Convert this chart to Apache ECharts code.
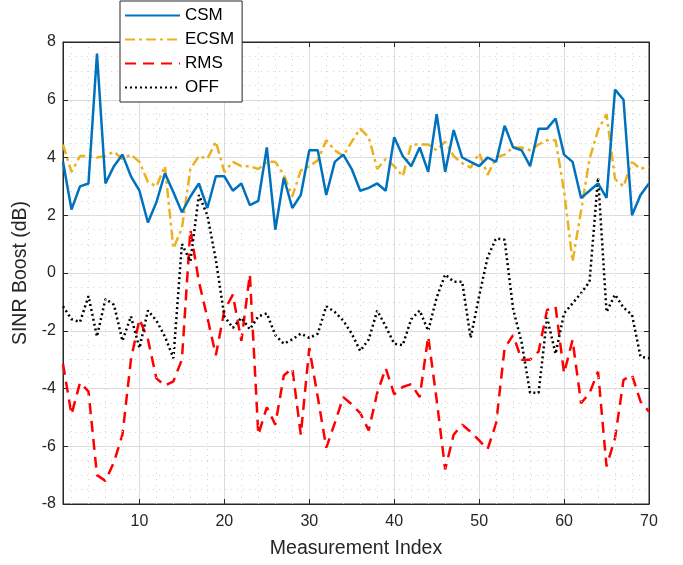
<!DOCTYPE html>
<html>
<head>
<meta charset="utf-8">
<script src="https://cdn.jsdelivr.net/npm/echarts@6/dist/echarts.min.js"></script>
<style>html,body{margin:0;padding:0;background:#fff;}#c{width:683px;height:565px;}</style>
</head>
<body>
<div id="c"></div>
<script>
var xIndex = [];
for (var i = 1; i <= 70; i++) xIndex.push(i);

var csm = [3.85,2.2,3.0,3.1,7.6,3.1,3.7,4.1,3.35,2.85,
  1.75,2.45,3.45,2.8,2.1,2.65,3.1,2.25,3.35,3.35,
  2.85,3.1,2.35,2.5,4.35,1.5,3.3,2.25,2.7,4.25,
  4.25,2.7,3.85,4.1,3.6,2.85,2.95,3.1,2.85,4.7,
  4.05,3.7,4.35,3.5,5.5,3.5,4.95,4.0,3.85,3.7,
  4.0,3.85,5.1,4.35,4.25,3.7,5.0,5.0,5.35,4.1,
  3.85,2.6,2.85,3.1,2.6,6.35,6.0,2.0,2.7,3.1];

var ecsm = [4.45,3.5,4.05,4.05,4.0,4.05,4.2,3.95,4.1,3.85,
  3.15,3.0,3.7,0.85,1.55,3.6,4.05,3.95,4.55,3.5,
  3.85,3.7,3.7,3.6,3.85,3.85,3.4,2.65,3.55,3.7,
  3.9,4.6,4.25,4.05,4.55,5.0,4.7,3.6,3.95,3.7,
  3.35,4.45,4.45,4.45,4.25,4.55,4.05,3.8,3.65,4.15,
  3.4,4.0,4.1,4.35,4.35,4.25,4.45,4.6,4.6,2.85,
  0.4,2.15,3.95,4.95,5.5,3.25,3.0,3.85,3.6,3.7];

var rms = [-3.15,-4.9,-3.8,-4.1,-7.0,-7.2,-6.55,-5.6,-3.0,-1.6,
  -2.3,-3.65,-3.9,-3.75,-3.0,1.5,-0.3,-1.55,-2.85,-1.3,
  -0.75,-2.35,-0.05,-5.6,-4.65,-5.25,-3.55,-3.3,-5.6,-2.6,
  -4.3,-6.05,-5.2,-4.3,-4.55,-4.85,-5.45,-4.15,-3.3,-4.2,
  -3.95,-3.85,-4.3,-2.2,-4.4,-6.8,-5.6,-5.25,-5.5,-5.8,
  -6.1,-5.2,-2.6,-2.15,-3.0,-3.0,-2.72,-1.28,-1.17,-3.47,
  -2.32,-4.51,-4.16,-3.41,-6.7,-5.72,-3.7,-3.53,-4.45,-4.8];

var off = [-1.15,-1.6,-1.7,-0.8,-2.2,-0.9,-1.1,-2.35,-1.5,-2.6,
  -1.3,-1.65,-2.2,-2.95,1.0,0.4,2.7,2.0,0.45,-1.5,
  -1.9,-1.55,-1.95,-1.5,-1.4,-2.15,-2.45,-2.3,-2.1,-2.25,
  -2.1,-1.15,-1.35,-1.65,-2.1,-2.7,-2.3,-1.3,-1.85,-2.45,
  -2.5,-1.6,-1.3,-2.0,-0.85,-0.05,-0.3,-0.3,-2.25,-0.8,
  0.55,1.2,1.15,-1.25,-2.4,-4.15,-4.15,-1.55,-2.8,-1.4,
  -1.05,-0.7,-0.3,3.3,-1.35,-0.75,-1.2,-1.45,-2.9,-2.95];

var xMinorGrid = [];
for (var m = 2; m < 70; m += 2) if (m % 10 !== 0) xMinorGrid.push(m);

function pairs(arr) { return arr.map(function (v, k) { return [xIndex[k], v]; }); }

var FONT = 'Liberation Sans, Arial, sans-serif';
var chart = echarts.init(document.getElementById('c'), null, {renderer: 'canvas'});
var axisColor = '#262626';
var minorStyle = {color: '#d4d4d4', width: 1, type: [1, 5]};
chart.setOption({
  animation: false,
  backgroundColor: '#ffffff',
  grid: {left: 63, right: 34, top: 42, bottom: 61, show: true, borderColor: axisColor, borderWidth: 1, backgroundColor: 'transparent'},
  legend: {
    left: 120, top: 1, orient: 'vertical',
    backgroundColor: '#ffffff', borderColor: axisColor, borderWidth: 1,
    padding: [6, 8, 6, 4], itemWidth: 55, itemHeight: 14, itemGap: 7,
    textStyle: {fontFamily: FONT, fontSize: 17, color: '#000'},
    itemStyle: {opacity: 0},
    z: 20,
    data: ['CSM', 'ECSM', 'RMS', 'OFF']
  },
  xAxis: [{
    type: 'value', min: 1, max: 70, splitNumber: 7,
    name: 'Measurement Index', nameLocation: 'middle', nameGap: 35,
    nameTextStyle: {fontFamily: FONT, fontSize: 19.5, color: axisColor},
    axisLine: {show: true, onZero: false, lineStyle: {color: axisColor}},
    axisTick: {show: true, inside: true, length: 5, lineStyle: {color: axisColor}},
    axisLabel: {showMinLabel: false, margin: 10, fontFamily: FONT, fontSize: 16, color: axisColor},
    splitLine: {show: true, lineStyle: {color: '#dcdcdc', width: 1}}
  }, {
    type: 'value', min: 1, max: 70, splitNumber: 7, position: 'top',
    axisLine: {show: true, onZero: false, lineStyle: {color: axisColor}},
    axisTick: {show: true, inside: true, length: 5, lineStyle: {color: axisColor}},
    axisLabel: {show: false}, splitLine: {show: false}
  }],
  yAxis: [{
    type: 'value', min: -8, max: 8, interval: 2,
    name: 'SINR Boost (dB)', nameLocation: 'middle', nameGap: 26,
    nameTextStyle: {fontFamily: FONT, fontSize: 19.5, color: axisColor},
    axisLine: {show: true, onZero: false, lineStyle: {color: axisColor}},
    axisTick: {show: true, inside: true, length: 5, lineStyle: {color: axisColor}},
    axisLabel: {margin: 7, fontFamily: FONT, fontSize: 16, color: axisColor},
    splitLine: {show: true, lineStyle: {color: '#dcdcdc', width: 1}},
    minorTick: {show: false, splitNumber: 4},
    minorSplitLine: {show: true, lineStyle: minorStyle}
  }, {
    type: 'value', min: -8, max: 8, interval: 2, position: 'right',
    axisLine: {show: true, onZero: false, lineStyle: {color: axisColor}},
    axisTick: {show: true, inside: true, length: 5, lineStyle: {color: axisColor}},
    axisLabel: {show: false}, splitLine: {show: false}
  }],
  series: [
    {
      name: 'minor', type: 'line', data: [], silent: true, z: 1,
      markLine: {
        silent: true, symbol: 'none', label: {show: false}, animation: false,
        lineStyle: minorStyle,
        data: xMinorGrid.map(function (v) { return {xAxis: v}; })
      }
    },
    {name: 'CSM', type: 'line', data: pairs(csm), showSymbol: false, symbol: 'none', z: 5,
      lineStyle: {color: '#0072BD', width: 2.5}, itemStyle: {color: '#0072BD'}},
    {name: 'ECSM', type: 'line', data: pairs(ecsm), showSymbol: false, symbol: 'none', z: 4,
      lineStyle: {color: '#EDB120', width: 2.5, type: [10, 4, 3, 4]}, itemStyle: {color: '#EDB120'}},
    {name: 'RMS', type: 'line', data: pairs(rms), showSymbol: false, symbol: 'none', z: 3,
      lineStyle: {color: '#FF0000', width: 2.5, type: [11, 7]}, itemStyle: {color: '#FF0000'}},
    {name: 'OFF', type: 'line', data: pairs(off), showSymbol: false, symbol: 'none', z: 3,
      lineStyle: {color: '#000000', width: 2.5, type: [2, 3]}, itemStyle: {color: '#000000'}}
  ]
});
</script>
</body>
</html>
